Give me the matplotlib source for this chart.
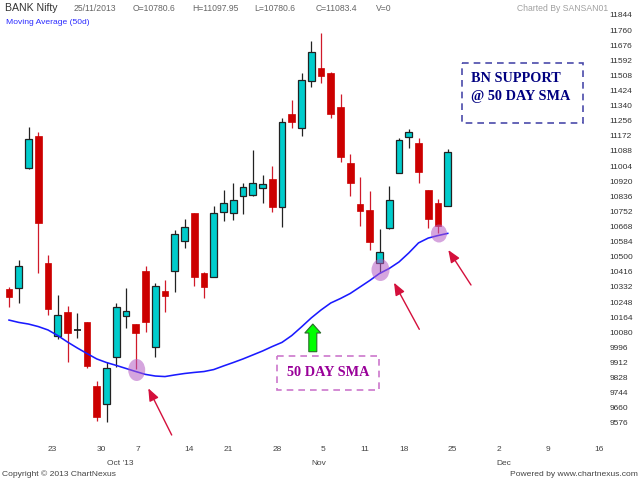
import numpy as np
import pandas as pd
import matplotlib
matplotlib.use('Agg')
import matplotlib.pyplot as plt
from matplotlib.patches import Ellipse, Rectangle, Polygon

# daily OHLC (17 Sep - 25 Nov 2013)
opens = [10321, 10328, 10992, 11171, 10467, 10060, 10193, 10095, 10136, 9782,
         9682, 9945, 10171, 10125, 10423, 10000, 10311, 10423, 10589, 10742,
         10410, 10389, 10751, 10745, 10838, 10843, 10884, 10931, 10778, 11294,
         11214, 11479, 11548, 11523, 11331, 11020, 10793, 10760, 10467, 10658,
         10968, 11163, 11134, 10871, 10801, 10780.6]
highs = [10334, 10482, 11223, 11192, 10510, 10288, 10228, 10186, 10138, 9811,
         9913, 10241, 10325, 10126, 10450, 10356, 10371, 10649, 10710, 10745,
         10417, 10784, 10871, 10909, 10912, 11094, 10955, 11006, 11270, 11372,
         11520, 11701, 11746, 11525, 11405, 11070, 10945, 10866, 10653, 10895,
         11160, 11211, 11159, 10873, 10820, 11097.95]
lows = [10222, 10241, 10990, 10411, 10176, 10041, 9917, 10047, 9880, 9589,
        9580, 9889, 10106, 9874, 10084, 9945, 10195, 10306, 10547, 10338,
        10272, 10385, 10699, 10704, 10736, 10840, 10797, 10751, 10667, 11214,
        11173, 11446, 11468, 11273, 11029, 10840, 10671, 10538, 10408, 10655,
        10965, 11106, 10909, 10658, 10631, 10780.6]
closes = [10278, 10449, 11155, 10686, 10210, 10176, 10078, 10095, 9893, 9611,
          9883, 10223, 10199, 10078, 10139, 10338, 10284, 10625, 10666, 10389,
          10334, 10746, 10801, 10816, 10886, 10909, 10905, 10775, 11249, 11251,
          11481, 11637, 11505, 11292, 11056, 10912, 10754, 10584, 10525, 10816,
          11148, 11195, 10973, 10708, 10671, 11083.4]
sma50 = [10148, 10135, 10126, 10112, 10093, 10062, 10026, 9993, 9962, 9932,
         9912, 9896, 9879, 9862, 9846, 9837, 9834, 9843, 9851, 9857,
         9862, 9873, 9893, 9912, 9932, 9954, 9976, 10001, 10024, 10062,
         10110, 10160, 10204, 10243, 10268, 10296, 10332, 10368, 10407, 10435,
         10471, 10521, 10577, 10604, 10618, 10630]

holidays = ['2013-10-02', '2013-10-16', '2013-11-04', '2013-11-15']
week_ticks = ['2013-09-23', '2013-09-30', '2013-10-07', '2013-10-14', '2013-10-21',
              '2013-10-28', '2013-11-05', '2013-11-11', '2013-11-18', '2013-11-25',
              '2013-12-02', '2013-12-09', '2013-12-16']
week_labels = ['23', '30', '7', '14', '21', '28', '5', '11', '18', '25', '2', '9', '16']
month_ticks = ['2013-10-01', '2013-11-01', '2013-12-02']
month_labels = ["Oct '13", 'Nov', 'Dec']
price_ticks = list(range(9576, 11845, 84))

GREEN = '#00cccc'
RED = '#cc0000'
UI_FONT = ['Liberation Sans', 'DejaVu Sans']
BOX_FONT = ['Liberation Serif', 'DejaVu Serif']

plt.rcParams['font.family'] = UI_FONT

days = pd.bdate_range('2013-09-17', '2013-12-31', freq='C', holidays=holidays)
def day_index(d):
    return days.get_loc(pd.Timestamp(d))

# layout in pixels (640x480 canvas)
W, H = 640, 480
BAR0, STEP = 9.0, 9.75
AX_L, AX_R, AX_T, AX_B = 0, 603, 8, 436

def px_to_price(p):
    return 11844 - (p - 15) * 84 / 15.11

fig = plt.figure(figsize=(6.4, 4.8), dpi=100)
ax = fig.add_axes([AX_L / W, 1 - AX_B / H, (AX_R - AX_L) / W, (AX_B - AX_T) / H])
ax.set_xlim((AX_L - BAR0) / STEP, (AX_R - BAR0) / STEP)
ax.set_ylim(px_to_price(AX_B), px_to_price(AX_T))
for s in ax.spines.values():
    s.set_visible(False)

o = np.array(opens); h = np.array(highs); l = np.array(lows); c = np.array(closes)
x = np.arange(len(o))
up = c > o
down = c < o
flat = c == o

ax.vlines(x[up | flat], l[up | flat], h[up | flat], color='#222222', lw=0.9, zorder=2)
ax.vlines(x[down], l[down], h[down], color='#d01a2a', lw=0.9, zorder=2)
ax.bar(x[up], c[up] - o[up], bottom=o[up], width=0.68, color=GREEN,
       edgecolor='#222222', linewidth=0.9, zorder=3)
ax.bar(x[down], o[down] - c[down], bottom=c[down], width=0.7, color=RED,
       edgecolor=RED, linewidth=0.5, zorder=3)
ax.hlines(o[flat], x[flat] - 0.35, x[flat] + 0.35, color='#111111', lw=1.2, zorder=3)

ax.plot(x, sma50, color='#1a1aff', lw=1.15, zorder=4)

ax.yaxis.tick_right()
ax.set_yticks(price_ticks)
ax.set_yticklabels([str(v) for v in price_ticks])
ax.tick_params(axis='y', length=0, pad=4.5, labelsize=6, labelcolor='#333333')

ax.xaxis.remove_overlapping_locs = False
ax.set_xticks([day_index(d) for d in week_ticks])
ax.set_xticklabels(week_labels, ha='left')
ax.set_xticks([day_index(d) for d in month_ticks], minor=True)
ax.set_xticklabels(month_labels, minor=True, ha='left')
ax.tick_params(axis='x', which='major', length=0, pad=7.5, labelsize=6, labelcolor='#444444')
ax.tick_params(axis='x', which='minor', length=0, pad=17.5, labelsize=6, labelcolor='#444444')

# overlay in pixel coordinates for the hand-drawn notes
ov = fig.add_axes([0, 0, 1, 1], zorder=5)
ov.set_xlim(0, W)
ov.set_ylim(H, 0)
ov.axis('off')
ov.patch.set_alpha(0)

for cx, cy, ew, eh in [(136.7, 370, 17, 22), (380.5, 270, 18, 22), (439, 233.5, 16, 18)]:
    ov.add_patch(Ellipse((cx, cy), ew, eh, facecolor='#b45cc4', alpha=0.55, lw=0))

for tail, head in [((171.7, 435), (148.3, 388.3)),
                   ((419.3, 329.3), (394, 282.7)),
                   ((471, 285), (448.3, 250))]:
    ov.annotate('', xy=head, xytext=tail,
                arrowprops=dict(arrowstyle='-|>,head_length=0.75,head_width=0.3',
                                color='#d4103c', lw=1.0, shrinkA=0, shrinkB=0,
                                mutation_scale=10))

ov.add_patch(Polygon([(312.8, 324), (320.8, 333), (316.8, 333), (316.8, 351.7),
                      (308.8, 351.7), (308.8, 333), (304.8, 333)],
                     closed=True, facecolor='#00ff00', edgecolor='#2a6a2a', lw=0.8))

ov.add_patch(Rectangle((277.3, 356), 101.7, 34, fill=False, edgecolor='#cc77cc',
                       lw=1.2, linestyle=(0, (4, 3))))
ov.text(328, 373, '50 DAY SMA', ha='center', va='center', fontsize=10.3,
        fontweight='bold', color='#990099', family=BOX_FONT)

ov.add_patch(Rectangle((461.7, 62.7), 121, 60, fill=False, edgecolor='#4a4aaa',
                       lw=1.2, linestyle=(0, (4, 3))))
ov.text(471, 79, 'BN SUPPORT', ha='left', va='center', fontsize=10.3,
        fontweight='bold', color='#000080', family=BOX_FONT)
ov.text(471, 96.7, '@ 50 DAY SMA', ha='left', va='center', fontsize=10.3,
        fontweight='bold', color='#000080', family=BOX_FONT)

# header / footer
ov.text(5, 8, 'BANK Nifty', ha='left', va='center', fontsize=7.6, color='#333333')
for tx, s in [(73.5, '25/11/2013'), (132.7, 'O=10780.6'), (192.7, 'H=11097.95'),
              (254, 'L=10780.6'), (316, 'C=11083.4'), (376, 'V=0')]:
    ov.text(tx, 8.5, s, ha='left', va='center', fontsize=6.2, color='#666666')
ov.text(608, 8.5, 'Charted By SANSAN01', ha='right', va='center', fontsize=6.2,
        color='#a0a0a0')
ov.text(6, 23, 'Moving Average (50d)', ha='left', va='center', fontsize=6.1,
        color='#2a2aff')
ov.text(2, 474, 'Copyright \u00a9 2013 ChartNexus', ha='left', va='center',
        fontsize=6.1, color='#444444')
ov.text(638, 474, 'Powered by www.chartnexus.com', ha='right', va='center',
        fontsize=6.1, color='#444444')

fig.savefig('out.png', dpi=100)
